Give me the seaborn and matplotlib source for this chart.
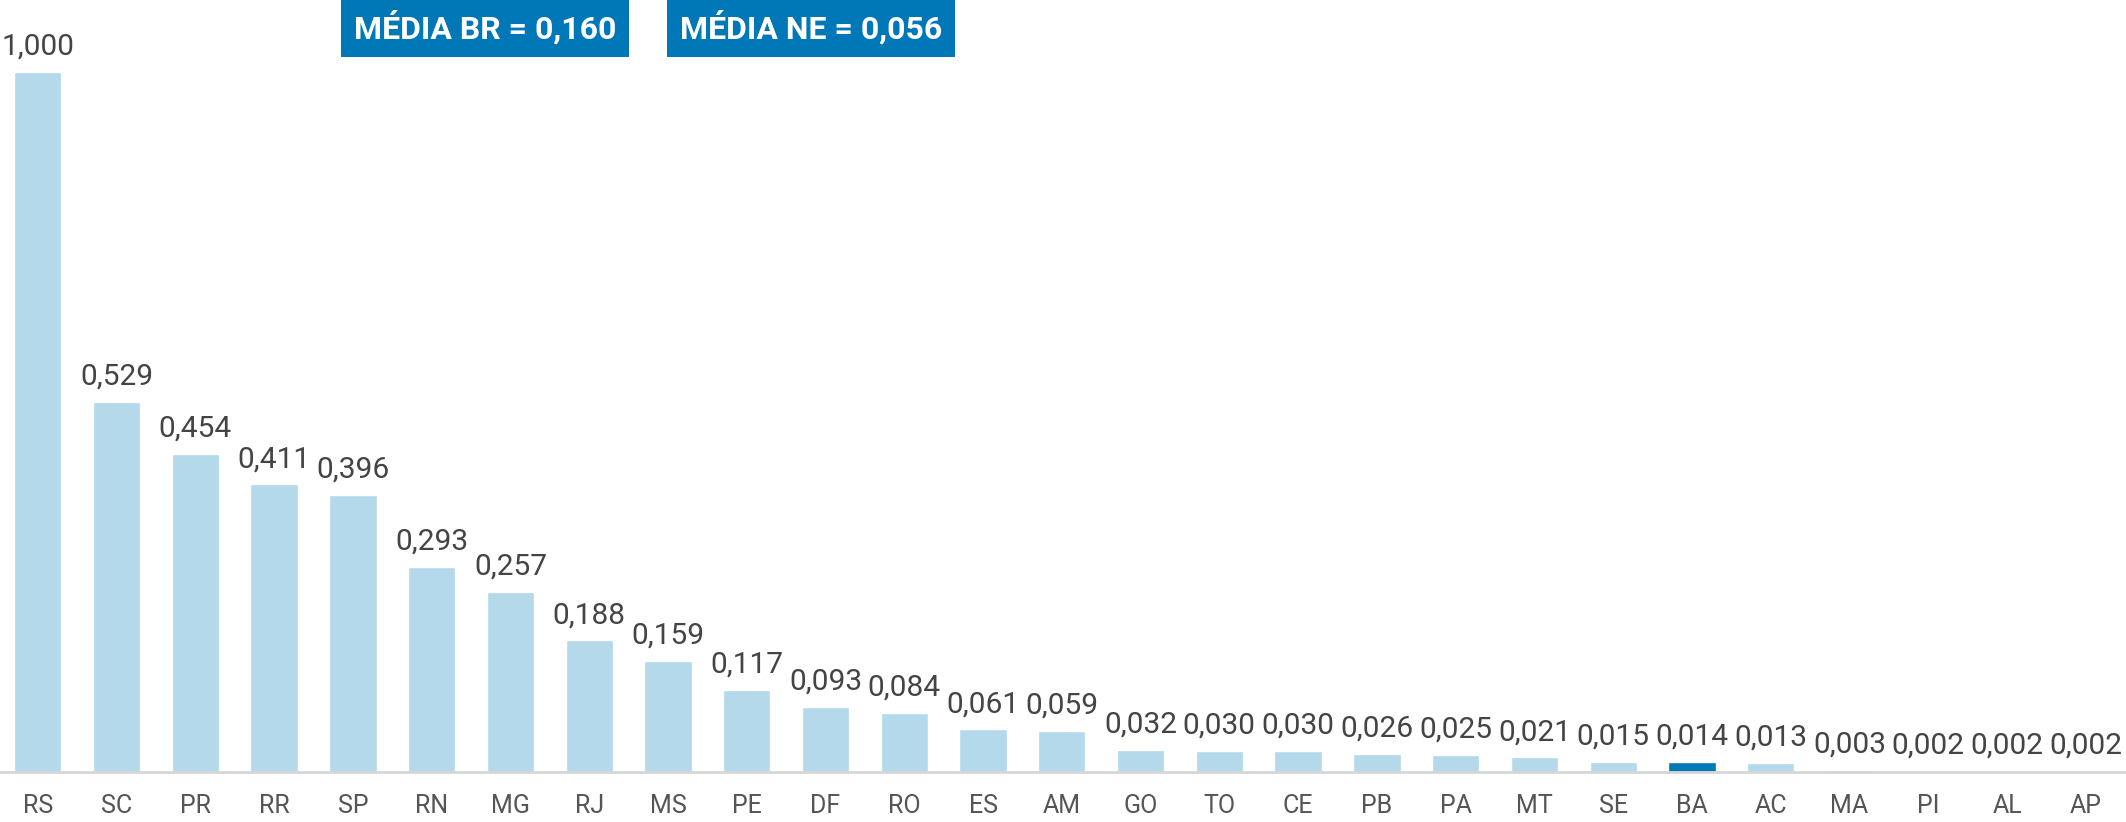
import matplotlib
matplotlib.use("Agg")
import matplotlib.pyplot as plt
import seaborn as sns
import pandas as pd

states = ["RS", "SC", "PR", "RR", "SP", "RN", "MG", "RJ", "MS", "PE", "DF", "RO", "ES", "AM",
          "GO", "TO", "CE", "PB", "PA", "MT", "SE", "BA", "AC", "MA", "PI", "AL", "AP"]
values = [1.000, 0.529, 0.454, 0.411, 0.396, 0.293, 0.257, 0.188, 0.159, 0.117, 0.093, 0.084, 0.061, 0.059,
          0.032, 0.030, 0.030, 0.026, 0.025, 0.021, 0.015, 0.014, 0.013, 0.003, 0.002, 0.002, 0.002]
highlight = "BA"
box_labels = ["MÉDIA BR = 0,160", "MÉDIA NE = 0,056"]

light = "#b3d9eb"
dark = "#0078b8"

sns.set_theme(style="white")
plt.rcParams["font.family"] = ["Roboto", "DejaVu Sans"]

df = pd.DataFrame({"uf": states, "v": values})
palette = {s: (dark if s == highlight else light) for s in states}

fig = plt.figure(figsize=(21.26, 8.22), dpi=100)
ax = fig.add_axes([0, 50 / 822, 1, 772 / 822])
sns.barplot(data=df, x="uf", y="v", hue="uf", palette=palette, legend=False,
            width=0.6, ax=ax, saturation=1)

ax.set_xlim(-0.48, 26.51)
ax.set_ylim(0, 772 / 700)
for s in ["top", "right", "left"]:
    ax.spines[s].set_visible(False)
ax.spines["bottom"].set_color("#d6d6d6")
ax.spines["bottom"].set_linewidth(2)
ax.set_yticks([])
ax.set_xlabel("")
ax.set_ylabel("")
ax.tick_params(axis="x", length=0, pad=16, labelsize=18, labelcolor="#555555")

for i, v in enumerate(values):
    ax.annotate(f"{v:.3f}".replace(".", ","), (i, v), xytext=(0, 8), textcoords="offset points",
                ha="center", va="bottom", fontsize=21.5, color="#444444")

centers = [(338 + 632) / 2 / 2126, (663 + 959) / 2 / 2126]
for c, t in zip(centers, box_labels):
    fig.text(c, 1 - 27 / 822, t, ha="center", va="center", fontsize=23, fontweight="bold",
             color="white", bbox=dict(boxstyle="square,pad=0.4", fc=dark, ec="none"))

fig.savefig("out.png", dpi=100)
